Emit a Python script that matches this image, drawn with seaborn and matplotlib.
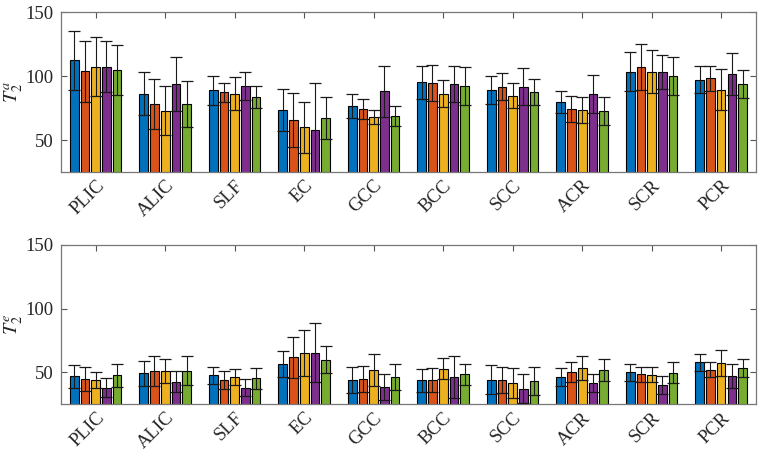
import numpy as np
import pandas as pd
import seaborn as sns
import matplotlib
matplotlib.use("Agg")
import matplotlib.pyplot as plt
from matplotlib.transforms import ScaledTranslation

# regions of interest (x tick labels)
regions = ["PLIC", "ALIC", "SLF", "EC", "GCC", "BCC", "SCC", "ACR", "SCR", "PCR"]
series = ["s1", "s2", "s3", "s4", "s5"]
palette = ["#0072BD", "#D95319", "#EDB120", "#7E2F8E", "#77AC30"]

# T2^a: mean per region (rows) and series (cols)
t2a_mean = [
    [112.5, 103.6, 107.3, 107.3, 104.7],
    [86.2, 78.1, 72.9, 94.0, 78.1],
    [88.8, 87.2, 86.2, 92.4, 83.6],
    [73.2, 65.9, 60.1, 57.5, 67.4],
    [76.8, 74.5, 68.0, 88.0, 68.7],
    [95.0, 94.8, 86.2, 94.0, 92.4],
    [89.3, 91.7, 84.6, 91.7, 87.8],
    [79.7, 74.2, 73.7, 85.9, 72.9],
    [103.4, 107.0, 103.4, 103.1, 100.0],
    [97.1, 98.4, 89.3, 101.8, 94.0],
]
t2a_err = [
    [23.0, 23.7, 23.1, 19.9, 19.6],
    [16.8, 19.3, 19.1, 21.0, 18.1],
    [11.2, 7.5, 12.7, 11.1, 8.6],
    [16.5, 21.0, 19.9, 37.0, 16.3],
    [9.2, 7.7, 5.8, 19.9, 8.0],
    [12.6, 14.1, 10.4, 13.9, 14.7],
    [10.8, 10.8, 9.8, 14.5, 10.1],
    [8.6, 10.2, 10.2, 14.8, 10.9],
    [15.3, 18.1, 16.8, 13.0, 15.0],
    [10.6, 9.7, 15.9, 16.5, 10.9],
]

# T2^e
t2e_mean = [
    [46.9, 45.1, 44.0, 38.1, 47.7],
    [49.2, 51.3, 51.0, 42.7, 51.3],
    [47.7, 44.0, 46.6, 38.1, 45.3],
    [56.7, 61.9, 65.3, 65.3, 60.1],
    [44.3, 45.1, 51.8, 38.9, 46.6],
    [43.8, 44.3, 52.9, 46.6, 48.7],
    [44.3, 44.0, 42.0, 37.3, 43.5],
    [46.6, 50.5, 53.6, 41.7, 52.1],
    [50.0, 48.7, 48.2, 40.2, 49.7],
    [57.8, 52.3, 57.3, 47.1, 53.4],
]
t2e_err = [
    [9.0, 9.3, 6.5, 7.5, 9.0],
    [9.8, 11.6, 9.5, 8.2, 11.3],
    [6.7, 7.0, 6.2, 6.8, 8.0],
    [10.3, 16.0, 18.0, 23.0, 10.3],
    [10.1, 10.1, 12.5, 10.1, 10.0],
    [8.8, 9.4, 8.3, 16.3, 8.2],
    [11.2, 10.0, 11.8, 11.3, 10.9],
    [7.0, 7.8, 9.4, 6.7, 8.8],
    [6.7, 5.9, 5.8, 6.8, 8.3],
    [6.7, 6.0, 10.4, 9.2, 7.2],
]

sns.set_theme(style="white")
plt.rcParams["font.family"] = ["Liberation Serif", "DejaVu Serif"]
plt.rcParams["mathtext.fontset"] = "stix"

fig = plt.figure(figsize=(7.62, 4.58), dpi=100)
ax_top = fig.add_axes([0.080, 0.6245, 0.912, 0.349])
ax_bot = fig.add_axes([0.080, 0.117, 0.912, 0.349])


def draw_panel(ax, means, errs, ylab):
    df = pd.DataFrame(
        [(r, s, means[i][j], errs[i][j])
         for i, r in enumerate(regions) for j, s in enumerate(series)],
        columns=["region", "series", "value", "err"],
    )
    sns.barplot(data=df, x="region", y="value", hue="series",
                order=regions, hue_order=series, palette=palette,
                width=0.77, gap=0.19, errorbar=None, saturation=1,
                edgecolor="black", linewidth=0.8, legend=False, ax=ax)
    # error bars on top of the bars
    bar_conts = list(ax.containers)
    for j, cont in enumerate(bar_conts):
        xs = [p.get_x() + p.get_width() / 2 for p in cont.patches]
        ys = [p.get_height() for p in cont.patches]
        e = [errs[i][j] for i in range(len(regions))]
        ax.errorbar(xs, ys, yerr=e, fmt="none", ecolor="#1a1a1a",
                    elinewidth=0.8, capsize=4.3, capthick=0.9, zorder=5,
                    clip_on=True)
    ax.set_xlim(-0.5, 9.5)
    ax.set_ylim(25, 150)
    ax.set_yticks([50, 100, 150])
    ax.set_xlabel("")
    ax.set_ylabel(ylab, fontsize=14.5, color="#262626", labelpad=1)
    ax.set_xticks(range(len(regions)))
    ax.set_xticklabels(regions, rotation=45, ha="right",
                       rotation_mode="anchor", fontsize=13.5, color="#262626")
    shift = ScaledTranslation(6 / 100, -3 / 100, fig.dpi_scale_trans)
    for lab in ax.get_xticklabels():
        lab.set_transform(lab.get_transform() + shift)
    ax.tick_params(axis="y", labelsize=13.5, labelcolor="#262626", pad=5)
    ax.tick_params(direction="in", length=4.5, width=0.8, color="#555555",
                   top=True, right=True, bottom=True, left=True)
    for sp in ax.spines.values():
        sp.set_color("#777777")
        sp.set_linewidth(0.9)


draw_panel(ax_top, t2a_mean, t2a_err, r"$T_2^a$")
draw_panel(ax_bot, t2e_mean, t2e_err, r"$T_2^e$")

fig.savefig("out.png", dpi=100)
